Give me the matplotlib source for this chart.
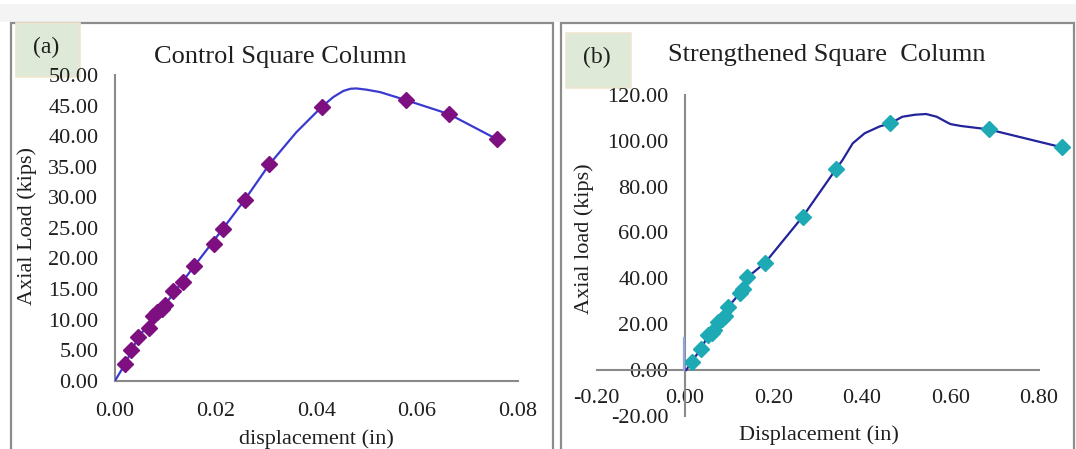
"""Axial load vs displacement for control and strengthened square columns."""

import matplotlib

matplotlib.use("Agg")
import matplotlib.pyplot as plt
from matplotlib.patches import Rectangle

W, H = 1076, 449

# (a) control column: marked points
ctrl_disp = [0.0020, 0.0032, 0.0046, 0.0068, 0.0076, 0.0084, 0.0093, 0.0099,
             0.0116, 0.0135, 0.0158, 0.0197, 0.0214, 0.0258, 0.0307, 0.0411,
             0.0578, 0.0664, 0.0759]
ctrl_load = [2.7, 5.0, 7.1, 8.7, 10.6, 11.2, 11.8, 12.4,
             14.7, 16.2, 18.8, 22.4, 24.8, 29.6, 35.4, 44.8,
             45.9, 43.6, 39.5]
# (a) curve vertices, including unmarked points around the peak
ctrl_curve_disp = [0.0, 0.0020, 0.0046, 0.0099, 0.0158, 0.0214, 0.0258, 0.0307,
                   0.0360, 0.0411, 0.0434, 0.0454, 0.0468, 0.0480, 0.0500,
                   0.0527, 0.0578, 0.0664, 0.0759]
ctrl_curve_load = [0.0, 2.7, 7.1, 12.4, 18.8, 24.8, 29.6, 35.4,
                   40.6, 44.8, 46.4, 47.4, 47.75, 47.8, 47.6,
                   47.2, 45.9, 43.6, 39.5]

# (b) strengthened column: marked points
str_disp = [0.015, 0.036, 0.053, 0.060, 0.066, 0.075, 0.083, 0.090, 0.098,
            0.124, 0.132, 0.141, 0.181, 0.266, 0.341, 0.464, 0.686, 0.851]
str_load = [3.6, 9.2, 15.3, 16.3, 17.5, 21.1, 22.1, 23.6, 27.6,
            33.5, 35.2, 40.4, 46.8, 66.9, 87.6, 107.6, 105.0, 97.2]
# (b) curve vertices
str_curve_disp = [0.003, 0.015, 0.036, 0.053, 0.075, 0.098, 0.124, 0.141, 0.181,
                  0.266, 0.341, 0.356, 0.379, 0.406, 0.440, 0.464, 0.491,
                  0.520, 0.545, 0.569, 0.587, 0.600, 0.623, 0.686, 0.851]
str_curve_load = [0.0, 3.6, 9.2, 15.3, 21.1, 27.6, 33.5, 40.4, 46.8,
                  66.9, 87.6, 91.6, 98.9, 103.3, 106.3, 107.6, 110.5,
                  111.4, 111.7, 110.5, 108.6, 107.3, 106.5, 105.0, 97.2]
trace_disp = [-0.003, -0.003]
trace_load = [0.0, 14.0]

SERIF = "Liberation Serif"
plt.rcParams["font.family"] = SERIF
AXIS_GREY = "#8a8a8a"
TEXT = "#1f1f1f"


def fx(px):
    return px / W


def fy(py):
    return 1.0 - py / H


def rect_px(fig, x0, x1, y0, y1, **kw):
    r = Rectangle((fx(x0), fy(y1)), fx(x1) - fx(x0), fy(y0) - fy(y1),
                  transform=fig.transFigure, zorder=-1, **kw)
    fig.patches.append(r)
    return r


def axes_from_px(fig, left, right, top, bottom):
    return fig.add_axes([fx(left), fy(bottom), (right - left) / W, (bottom - top) / H])


fig = plt.figure(figsize=(W / 100, H / 100), dpi=100)
fig.patch.set_facecolor("white")

# light band above the panels and the two panel frames
rect_px(fig, 0, W, 4, 22, facecolor="#f4f4f4", edgecolor="none")
rect_px(fig, 10.5, 552.5, 23, H + 5, facecolor="white", edgecolor="#8c8c8c", linewidth=1.6)
rect_px(fig, 561, 1074, 23, H + 5, facecolor="white", edgecolor="#8c8c8c", linewidth=1.6)

# panel label boxes
for (x0, x1, y0, y1), lab in (((16, 80, 23, 77), "(a)"), ((566, 631, 33, 88), "(b)")):
    rect_px(fig, x0, x1, y0, y1, facecolor="#dfe9d7", edgecolor="#efe6cf", linewidth=1.2)
    fig.text(fx((x0 + x1) / 2 - 2), fy((y0 + y1) / 2 - 3), lab, ha="center", va="center",
             fontsize=17, color=TEXT)

# ---------------- (a) control square column ----------------
ax = axes_from_px(fig, 115, 517.5, 75, 380.7)
ax.plot(ctrl_curve_disp, ctrl_curve_load, color="#3a3ad0", linewidth=1.6, zorder=3)
ax.plot(ctrl_disp, ctrl_load, linestyle="none", marker="D", markersize=8.5,
        color="#7d0f80", markeredgecolor="#7d0f80", zorder=4, clip_on=False)
ax.set_xlim(0, 0.08)
ax.set_ylim(0, 50)
ax.set_xticks([0.0, 0.02, 0.04, 0.06, 0.08])
ax.set_xticklabels(["0.00", "0.02", "0.04", "0.06", "0.08"])
ax.set_yticks(range(0, 51, 5))
ax.set_yticklabels([f"{v:.2f}" for v in range(0, 51, 5)])
ax.tick_params(axis="x", pad=15)

fig.text(fx(280), fy(57), "Control Square Column", ha="center", va="center",
         fontsize=19, color=TEXT)
fig.text(fx(27), fy(226), "Axial Load (kips)", ha="center", va="center",
         rotation=90, fontsize=16, color=TEXT)
fig.text(fx(316), fy(439), "displacement (in)", ha="center", va="center",
         fontsize=16, color=TEXT)

# ---------------- (b) strengthened square column ----------------
bx = axes_from_px(fig, 596.5, 1039, 95, 415.8)
bx.plot(trace_disp, trace_load, color="#8fa6e2", linewidth=1.6, zorder=5)
bx.plot(str_curve_disp, str_curve_load, color="#23239c", linewidth=1.6, zorder=3,
        clip_on=False)
bx.plot(str_disp, str_load, linestyle="none", marker="D", markersize=8.5,
        color="#1eaab4", markeredgecolor="#1eaab4", zorder=4, clip_on=False)
bx.set_xlim(-0.2, 0.8)
bx.set_ylim(-20, 120)
bx.set_xticks([-0.2, 0.0, 0.2, 0.4, 0.6, 0.8])
bx.set_xticklabels(["-0.20", "0.00", "0.20", "0.40", "0.60", "0.80"])
bx.set_yticks(range(-20, 121, 20))
bx.set_yticklabels([f"{v:.2f}" for v in range(-20, 121, 20)])
bx.spines["left"].set_position(("data", 0))
bx.spines["bottom"].set_position(("data", 0))
bx.tick_params(axis="x", pad=14)

fig.text(fx(827), fy(55), "Strengthened Square  Column", ha="center", va="center",
         fontsize=19, color=TEXT)
fig.text(fx(584), fy(239), "Axial load (kips)", ha="center", va="center",
         rotation=90, fontsize=16, color=TEXT)
fig.text(fx(819), fy(435), "Displacement (in)", ha="center", va="center",
         fontsize=16, color=TEXT)

for a in (ax, bx):
    a.set_facecolor("none")
    for side in ("top", "right"):
        a.spines[side].set_visible(False)
    for side in ("left", "bottom"):
        a.spines[side].set_color(AXIS_GREY)
        a.spines[side].set_linewidth(1.5)
    a.tick_params(axis="both", length=0, labelsize=16, labelcolor=TEXT)
    a.tick_params(axis="y", pad=12)

fig.savefig("out.png", dpi=100, facecolor="white")
